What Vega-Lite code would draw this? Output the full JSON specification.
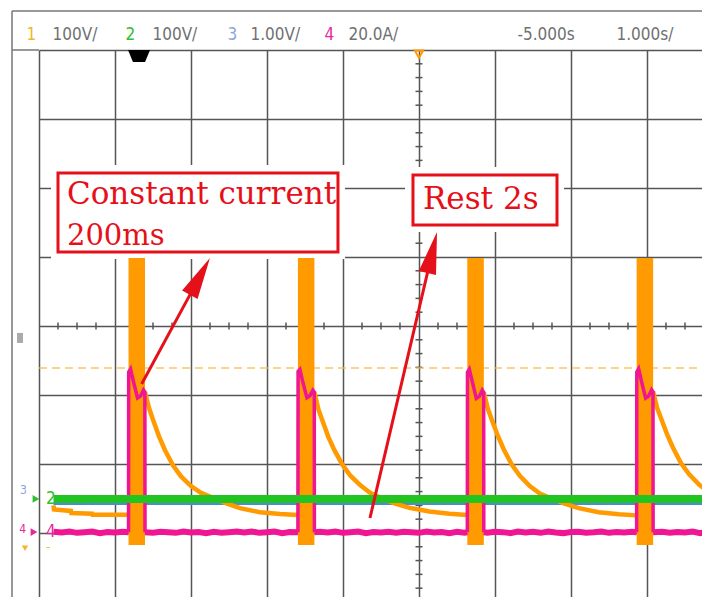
{
  "$schema": "https://vega.github.io/schema/vega-lite/v6.json",
  "width": 663,
  "height": 547,
  "autosize": {"type": "none"},
  "padding": {"left": 39, "top": 50, "right": 0, "bottom": 0},
  "background": "white",
  "config": {"view": {"stroke": null}},
  "datasets": {
    "xticks": [
      {"t": -9.75, "v": 0}, {"t": -9.5, "v": 0}, {"t": -9.25, "v": 0},
      {"t": -8.75, "v": 0}, {"t": -8.5, "v": 0}, {"t": -8.25, "v": 0},
      {"t": -7.75, "v": 0}, {"t": -7.5, "v": 0}, {"t": -7.25, "v": 0},
      {"t": -6.75, "v": 0}, {"t": -6.5, "v": 0}, {"t": -6.25, "v": 0},
      {"t": -5.75, "v": 0}, {"t": -5.5, "v": 0}, {"t": -5.25, "v": 0},
      {"t": -4.75, "v": 0}, {"t": -4.5, "v": 0}, {"t": -4.25, "v": 0},
      {"t": -3.75, "v": 0}, {"t": -3.5, "v": 0}, {"t": -3.25, "v": 0},
      {"t": -2.75, "v": 0}, {"t": -2.5, "v": 0}, {"t": -2.25, "v": 0},
      {"t": -1.75, "v": 0}, {"t": -1.5, "v": 0}
    ],
    "yticks": [
      {"t": -5, "v": 3.8}, {"t": -5, "v": 3.6}, {"t": -5, "v": 3.4}, {"t": -5, "v": 3.2},
      {"t": -5, "v": 2.8}, {"t": -5, "v": 2.6}, {"t": -5, "v": 2.4}, {"t": -5, "v": 2.2},
      {"t": -5, "v": 1.8}, {"t": -5, "v": 1.6}, {"t": -5, "v": 1.4}, {"t": -5, "v": 1.2},
      {"t": -5, "v": 0.8}, {"t": -5, "v": 0.6}, {"t": -5, "v": 0.4}, {"t": -5, "v": 0.2},
      {"t": -5, "v": -0.2}, {"t": -5, "v": -0.4}, {"t": -5, "v": -0.6}, {"t": -5, "v": -0.8},
      {"t": -5, "v": -1.2}, {"t": -5, "v": -1.4}, {"t": -5, "v": -1.6}, {"t": -5, "v": -1.8},
      {"t": -5, "v": -2.2}, {"t": -5, "v": -2.4}, {"t": -5, "v": -2.6}, {"t": -5, "v": -2.8},
      {"t": -5, "v": -3.2}, {"t": -5, "v": -3.4}, {"t": -5, "v": -3.6}, {"t": -5, "v": -3.8}
    ],
    "frame": [
      {"t": -10.355, "t2": -10.355, "v": 4.565, "v2": -3.93},
      {"t": -10.355, "t2": -1.27, "v": 4.565, "v2": 4.565},
      {"t": -10.355, "t2": -10, "v": 4, "v2": 4}
    ],
    "side": [{"t": -10.289, "t2": -10.211, "v": -0.101, "v2": -0.246}],
    "trig": [{"t": -10, "t2": -1.276, "v": -0.609}],
    "boxes": [
      {"kind": "pad", "t": -9.842, "t2": -5.974, "v": 2.333, "v2": 0.971},
      {"kind": "pad", "t": -5.184, "t2": -3.092, "v": 2.304, "v2": 1.362},
      {"kind": "frame", "t": -9.75, "t2": -6.066, "v": 2.217, "v2": 1.072},
      {"kind": "frame", "t": -5.079, "t2": -3.184, "v": 2.188, "v2": 1.464}
    ],
    "notes": [
      {"txt": "Constant current", "t": -9.632, "v": 1.768},
      {"txt": "200ms", "t": -9.632, "v": 1.175},
      {"txt": "Rest 2s", "t": -4.947, "v": 1.696}
    ],
    "arrows": [
      {"id": "a", "t": -8.649, "v": -0.841, "t2": -7.883, "v2": 0.719},
      {"id": "b", "t": -5.645, "v": -2.783, "t2": -4.826, "v2": 1.065}
    ],
    "heads": [
      {"id": "a", "t": -7.883, "v": 0.719},
      {"id": "b", "t": -4.826, "v": 1.065}
    ],
    "ch2": [{"t": -9.809, "v": -2.507}, {"t": -1.2, "v": -2.507}],
    "ch3": [{"t": -9.809, "v": -2.58}, {"t": -1.2, "v": -2.58}],
    "pulses": [
      {"t": -8.822, "t2": -8.605, "v": 0.986, "v2": -3.174},
      {"t": -6.593, "t2": -6.376, "v": 0.986, "v2": -3.174},
      {"t": -4.364, "t2": -4.147, "v": 0.986, "v2": -3.174},
      {"t": -2.136, "t2": -1.919, "v": 0.986, "v2": -3.174}
    ],
    "ch1": [
      {"seg": 0, "t": -9.809, "v": -2.6}, {"seg": 0, "t": -9.803, "v": -2.66},
      {"seg": 0, "t": -9.58, "v": -2.68}, {"seg": 0, "t": -9.575, "v": -2.71},
      {"seg": 0, "t": -9.3, "v": -2.72}, {"seg": 0, "t": -9.295, "v": -2.735},
      {"seg": 0, "t": -8.822, "v": -2.735},

      {"seg": 1, "t": -8.605, "v": -0.957}, {"seg": 1, "t": -8.552, "v": -1.19},
      {"seg": 1, "t": -8.5, "v": -1.36}, {"seg": 1, "t": -8.421, "v": -1.6},
      {"seg": 1, "t": -8.342, "v": -1.8}, {"seg": 1, "t": -8.237, "v": -2.02},
      {"seg": 1, "t": -8.131, "v": -2.18}, {"seg": 1, "t": -8.0, "v": -2.32},
      {"seg": 1, "t": -7.868, "v": -2.42}, {"seg": 1, "t": -7.71, "v": -2.49},
      {"seg": 1, "t": -7.552, "v": -2.565}, {"seg": 1, "t": -7.355, "v": -2.64},
      {"seg": 1, "t": -7.092, "v": -2.7}, {"seg": 1, "t": -6.829, "v": -2.725},
      {"seg": 1, "t": -6.593, "v": -2.74},

      {"seg": 2, "t": -6.376, "v": -0.957}, {"seg": 2, "t": -6.323, "v": -1.21},
      {"seg": 2, "t": -6.271, "v": -1.37}, {"seg": 2, "t": -6.192, "v": -1.61},
      {"seg": 2, "t": -6.113, "v": -1.8}, {"seg": 2, "t": -6.008, "v": -2.01},
      {"seg": 2, "t": -5.902, "v": -2.17}, {"seg": 2, "t": -5.771, "v": -2.31},
      {"seg": 2, "t": -5.639, "v": -2.42}, {"seg": 2, "t": -5.481, "v": -2.5},
      {"seg": 2, "t": -5.323, "v": -2.57}, {"seg": 2, "t": -5.126, "v": -2.635},
      {"seg": 2, "t": -4.863, "v": -2.69}, {"seg": 2, "t": -4.6, "v": -2.72},
      {"seg": 2, "t": -4.364, "v": -2.74},

      {"seg": 3, "t": -4.147, "v": -0.96}, {"seg": 3, "t": -4.094, "v": -1.2},
      {"seg": 3, "t": -4.042, "v": -1.36}, {"seg": 3, "t": -3.963, "v": -1.59},
      {"seg": 3, "t": -3.884, "v": -1.79}, {"seg": 3, "t": -3.779, "v": -2.01},
      {"seg": 3, "t": -3.673, "v": -2.17}, {"seg": 3, "t": -3.542, "v": -2.32},
      {"seg": 3, "t": -3.41, "v": -2.43}, {"seg": 3, "t": -3.252, "v": -2.5},
      {"seg": 3, "t": -3.094, "v": -2.57}, {"seg": 3, "t": -2.897, "v": -2.64},
      {"seg": 3, "t": -2.634, "v": -2.7}, {"seg": 3, "t": -2.371, "v": -2.73},
      {"seg": 3, "t": -2.136, "v": -2.745},

      {"seg": 4, "t": -1.919, "v": -0.95}, {"seg": 4, "t": -1.866, "v": -1.19},
      {"seg": 4, "t": -1.814, "v": -1.34}, {"seg": 4, "t": -1.735, "v": -1.57},
      {"seg": 4, "t": -1.656, "v": -1.77}, {"seg": 4, "t": -1.551, "v": -1.99},
      {"seg": 4, "t": -1.445, "v": -2.15}, {"seg": 4, "t": -1.314, "v": -2.3},
      {"seg": 4, "t": -1.182, "v": -2.41}
    ],
    "ch4pulse": [
      {"seg": 1, "t": -8.822, "v": -2.99}, {"seg": 1, "t": -8.82, "v": -0.667},
      {"seg": 1, "t": -8.796, "v": -0.623}, {"seg": 1, "t": -8.756, "v": -0.812},
      {"seg": 1, "t": -8.704, "v": -1.043}, {"seg": 1, "t": -8.664, "v": -1.014},
      {"seg": 1, "t": -8.625, "v": -0.928}, {"seg": 1, "t": -8.607, "v": -0.957},
      {"seg": 1, "t": -8.605, "v": -2.99},

      {"seg": 2, "t": -6.593, "v": -2.99}, {"seg": 2, "t": -6.591, "v": -0.66},
      {"seg": 2, "t": -6.567, "v": -0.63}, {"seg": 2, "t": -6.527, "v": -0.82},
      {"seg": 2, "t": -6.475, "v": -1.04}, {"seg": 2, "t": -6.435, "v": -1.01},
      {"seg": 2, "t": -6.396, "v": -0.93}, {"seg": 2, "t": -6.378, "v": -0.957},
      {"seg": 2, "t": -6.376, "v": -2.99},

      {"seg": 3, "t": -4.364, "v": -2.99}, {"seg": 3, "t": -4.362, "v": -0.67},
      {"seg": 3, "t": -4.338, "v": -0.625}, {"seg": 3, "t": -4.298, "v": -0.81},
      {"seg": 3, "t": -4.246, "v": -1.05}, {"seg": 3, "t": -4.206, "v": -1.02},
      {"seg": 3, "t": -4.167, "v": -0.93}, {"seg": 3, "t": -4.149, "v": -0.96},
      {"seg": 3, "t": -4.147, "v": -2.99},

      {"seg": 4, "t": -2.136, "v": -2.99}, {"seg": 4, "t": -2.134, "v": -0.665},
      {"seg": 4, "t": -2.11, "v": -0.62}, {"seg": 4, "t": -2.07, "v": -0.815},
      {"seg": 4, "t": -2.018, "v": -1.045}, {"seg": 4, "t": -1.978, "v": -1.015},
      {"seg": 4, "t": -1.939, "v": -0.925}, {"seg": 4, "t": -1.921, "v": -0.955},
      {"seg": 4, "t": -1.919, "v": -2.99}
    ],
    "ch4base": [
      {"seg": 0, "t": -9.809, "v": -2.982}, {"seg": 0, "t": -9.7, "v": -2.994},
      {"seg": 0, "t": -9.6, "v": -2.979}, {"seg": 0, "t": -9.5, "v": -2.998},
      {"seg": 0, "t": -9.4, "v": -2.99}, {"seg": 0, "t": -9.3, "v": -2.98},
      {"seg": 0, "t": -9.2, "v": -3.002}, {"seg": 0, "t": -9.1, "v": -2.986},
      {"seg": 0, "t": -9.0, "v": -2.992}, {"seg": 0, "t": -8.9, "v": -2.982},
      {"seg": 0, "t": -8.822, "v": -2.99},

      {"seg": 1, "t": -8.605, "v": -2.99}, {"seg": 1, "t": -8.5, "v": -2.996},
      {"seg": 1, "t": -8.4, "v": -2.984}, {"seg": 1, "t": -8.3, "v": -2.99},
      {"seg": 1, "t": -8.2, "v": -2.998}, {"seg": 1, "t": -8.1, "v": -2.979},
      {"seg": 1, "t": -8.0, "v": -2.994}, {"seg": 1, "t": -7.9, "v": -2.986},
      {"seg": 1, "t": -7.8, "v": -3.002}, {"seg": 1, "t": -7.7, "v": -2.982},
      {"seg": 1, "t": -7.6, "v": -2.996}, {"seg": 1, "t": -7.5, "v": -2.988},
      {"seg": 1, "t": -7.4, "v": -2.98}, {"seg": 1, "t": -7.3, "v": -2.994},
      {"seg": 1, "t": -7.2, "v": -2.978}, {"seg": 1, "t": -7.1, "v": -2.998},
      {"seg": 1, "t": -7.0, "v": -2.99}, {"seg": 1, "t": -6.9, "v": -2.98},
      {"seg": 1, "t": -6.8, "v": -3.002}, {"seg": 1, "t": -6.7, "v": -2.986},
      {"seg": 1, "t": -6.593, "v": -2.99},

      {"seg": 2, "t": -6.376, "v": -2.99}, {"seg": 2, "t": -6.3, "v": -2.982},
      {"seg": 2, "t": -6.2, "v": -2.994}, {"seg": 2, "t": -6.1, "v": -2.979},
      {"seg": 2, "t": -6.0, "v": -2.998}, {"seg": 2, "t": -5.9, "v": -2.99},
      {"seg": 2, "t": -5.8, "v": -2.98}, {"seg": 2, "t": -5.7, "v": -3.002},
      {"seg": 2, "t": -5.6, "v": -2.986}, {"seg": 2, "t": -5.5, "v": -2.992},
      {"seg": 2, "t": -5.4, "v": -2.982}, {"seg": 2, "t": -5.3, "v": -2.996},
      {"seg": 2, "t": -5.2, "v": -2.984}, {"seg": 2, "t": -5.1, "v": -2.99},
      {"seg": 2, "t": -5.0, "v": -2.998}, {"seg": 2, "t": -4.9, "v": -2.979},
      {"seg": 2, "t": -4.8, "v": -2.994}, {"seg": 2, "t": -4.7, "v": -2.986},
      {"seg": 2, "t": -4.6, "v": -3.002}, {"seg": 2, "t": -4.5, "v": -2.982},
      {"seg": 2, "t": -4.4, "v": -2.996}, {"seg": 2, "t": -4.364, "v": -2.99},

      {"seg": 3, "t": -4.147, "v": -2.99}, {"seg": 3, "t": -4.1, "v": -2.998},
      {"seg": 3, "t": -4.0, "v": -2.982}, {"seg": 3, "t": -3.9, "v": -2.988},
      {"seg": 3, "t": -3.8, "v": -3.002}, {"seg": 3, "t": -3.7, "v": -2.98},
      {"seg": 3, "t": -3.6, "v": -2.994}, {"seg": 3, "t": -3.5, "v": -2.984},
      {"seg": 3, "t": -3.4, "v": -2.998}, {"seg": 3, "t": -3.3, "v": -2.979},
      {"seg": 3, "t": -3.2, "v": -2.992}, {"seg": 3, "t": -3.1, "v": -3.002},
      {"seg": 3, "t": -3.0, "v": -2.986}, {"seg": 3, "t": -2.9, "v": -2.982},
      {"seg": 3, "t": -2.8, "v": -2.996}, {"seg": 3, "t": -2.7, "v": -2.99},
      {"seg": 3, "t": -2.6, "v": -2.979}, {"seg": 3, "t": -2.5, "v": -2.998},
      {"seg": 3, "t": -2.4, "v": -2.986}, {"seg": 3, "t": -2.3, "v": -2.994},
      {"seg": 3, "t": -2.2, "v": -2.982}, {"seg": 3, "t": -2.136, "v": -2.99},

      {"seg": 4, "t": -1.919, "v": -2.99}, {"seg": 4, "t": -1.8, "v": -2.982},
      {"seg": 4, "t": -1.7, "v": -2.998}, {"seg": 4, "t": -1.6, "v": -2.986},
      {"seg": 4, "t": -1.5, "v": -2.994}, {"seg": 4, "t": -1.4, "v": -2.98},
      {"seg": 4, "t": -1.3, "v": -3.002}, {"seg": 4, "t": -1.2, "v": -2.988}
    ],
    "header": [
      {"txt": "100V/", "t": -9.822, "v": 4.22},
      {"txt": "100V/", "t": -8.507, "v": 4.22},
      {"txt": "1.00V/", "t": -7.217, "v": 4.22},
      {"txt": "20.0A/", "t": -5.928, "v": 4.22},
      {"txt": "-5.000s", "t": -3.704, "v": 4.22},
      {"txt": "1.000s/", "t": -2.401, "v": 4.22}
    ],
    "chnum": [
      {"txt": "1", "ch": "1", "t": -10.164, "v": 4.22},
      {"txt": "2", "ch": "2", "t": -8.862, "v": 4.22},
      {"txt": "3", "ch": "3", "t": -7.52, "v": 4.22},
      {"txt": "4", "ch": "4", "t": -6.243, "v": 4.22},
      {"txt": "2", "ch": "2", "t": -9.908, "v": -2.507},
      {"txt": "4", "ch": "4", "t": -9.908, "v": -2.986}
    ],
    "chsmall": [
      {"txt": "3", "ch": "3", "t": -10.25, "v": -2.37},
      {"txt": "4", "ch": "4", "t": -10.26, "v": -2.94},
      {"txt": "-", "ch": "1", "t": -9.905, "v": -3.2}
    ],
    "chmark": [
      {"ch": "2", "t": -10.04, "v": -2.507},
      {"ch": "4", "t": -10.066, "v": -2.986}
    ],
    "gnd": [{"ch": "1", "t": -10.184, "v": -3.22}],
    "delay": [{"t": -8.684, "v": 3.913}],
    "trigpos": [{"t": -5, "v": 3.94}]
  },
  "encoding": {
    "x": {
      "field": "t",
      "type": "quantitative",
      "scale": {"domain": [-10, -1.276], "nice": false, "zero": false},
      "axis": {
        "values": [-10, -9, -8, -7, -6, -5, -4, -3, -2],
        "grid": true, "gridColor": "#555555", "gridWidth": 1.5, "gridOpacity": 1,
        "labels": false, "ticks": false, "domain": false, "title": null
      }
    },
    "y": {
      "field": "v",
      "type": "quantitative",
      "scale": {"domain": [-3.928, 4], "nice": false, "zero": false},
      "axis": {
        "values": [-3, -2, -1, 0, 1, 2, 3, 4],
        "grid": true, "gridColor": "#555555", "gridWidth": 1.5, "gridOpacity": 1,
        "labels": false, "ticks": false, "domain": false, "title": null
      }
    }
  },
  "layer": [
    {
      "data": {"name": "xticks"},
      "mark": {"type": "tick", "orient": "vertical", "size": 7, "thickness": 1.5, "color": "#555555", "opacity": 1}
    },
    {
      "data": {"name": "yticks"},
      "mark": {"type": "tick", "orient": "horizontal", "size": 7, "thickness": 1.5, "color": "#555555", "opacity": 1}
    },
    {
      "data": {"name": "frame"},
      "mark": {"type": "rule", "color": "#777777", "strokeWidth": 1.5},
      "encoding": {"x2": {"field": "t2"}, "y2": {"field": "v2"}}
    },
    {
      "data": {"name": "side"},
      "mark": {"type": "rect", "color": "#aaaaaa"},
      "encoding": {"x2": {"field": "t2"}, "y2": {"field": "v2"}}
    },
    {
      "data": {"name": "trig"},
      "mark": {"type": "rule", "color": "#ffbb44", "strokeWidth": 1.5, "strokeDash": [8, 5], "opacity": 0.85},
      "encoding": {"x2": {"field": "t2"}}
    },
    {
      "data": {"name": "boxes"},
      "transform": [{"filter": "datum.kind === 'pad'"}],
      "mark": {"type": "rect", "color": "white"},
      "encoding": {"x2": {"field": "t2"}, "y2": {"field": "v2"}}
    },
    {
      "data": {"name": "ch3"},
      "mark": {"type": "line", "color": "#4a8ad8", "strokeWidth": 2, "clip": true}
    },
    {
      "data": {"name": "pulses"},
      "mark": {"type": "rect", "color": "#ff9a00", "clip": true},
      "encoding": {"x2": {"field": "t2"}, "y2": {"field": "v2"}}
    },
    {
      "data": {"name": "ch1"},
      "mark": {"type": "line", "color": "#ff9a00", "strokeWidth": 4.5, "clip": true},
      "encoding": {"detail": {"field": "seg"}}
    },
    {
      "data": {"name": "ch4base"},
      "mark": {"type": "line", "color": "#f01592", "strokeWidth": 6, "clip": true},
      "encoding": {"detail": {"field": "seg"}}
    },
    {
      "data": {"name": "ch4pulse"},
      "mark": {"type": "line", "color": "#f01592", "strokeWidth": 3.5, "clip": true},
      "encoding": {"detail": {"field": "seg"}}
    },
    {
      "data": {"name": "ch2"},
      "mark": {"type": "line", "color": "#22c422", "strokeWidth": 8, "clip": true}
    },
    {
      "data": {"name": "boxes"},
      "transform": [{"filter": "datum.kind === 'frame'"}],
      "mark": {"type": "rect", "filled": false, "color": "#e5101a", "strokeWidth": 3},
      "encoding": {"x2": {"field": "t2"}, "y2": {"field": "v2"}}
    },
    {
      "data": {"name": "notes"},
      "transform": [{"filter": "datum.txt !== '200ms'"}],
      "mark": {"type": "text", "align": "left", "baseline": "alphabetic", "font": "DejaVu Serif", "fontSize": 31, "color": "#e5101a"},
      "encoding": {"text": {"field": "txt"}}
    },
    {
      "data": {"name": "notes"},
      "transform": [{"filter": "datum.txt === '200ms'"}],
      "mark": {"type": "text", "align": "left", "baseline": "alphabetic", "font": "DejaVu Serif", "fontSize": 29, "color": "#e5101a"},
      "encoding": {"text": {"field": "txt"}}
    },
    {
      "data": {"name": "arrows"},
      "mark": {"type": "rule", "color": "#e5101a", "strokeWidth": 3},
      "encoding": {"x2": {"field": "t2"}, "y2": {"field": "v2"}}
    },
    {
      "data": {"name": "heads"},
      "transform": [{"filter": "datum.id === 'a'"}],
      "mark": {"type": "point", "shape": "M0,-1L0.42,1L-0.42,1Z", "filled": true, "size": 1764, "angle": 28.6, "color": "#e5101a", "opacity": 1}
    },
    {
      "data": {"name": "heads"},
      "transform": [{"filter": "datum.id === 'b'"}],
      "mark": {"type": "point", "shape": "M0,-1L0.42,1L-0.42,1Z", "filled": true, "size": 1764, "angle": 13.2, "color": "#e5101a", "opacity": 1}
    },
    {
      "data": {"name": "header"},
      "mark": {"type": "text", "align": "left", "baseline": "middle", "font": "DejaVu Sans Condensed, Liberation Sans Narrow, Roboto Condensed, sans-serif", "fontSize": 17, "color": "#707070"},
      "encoding": {"text": {"field": "txt"}}
    },
    {
      "data": {"name": "chnum"},
      "mark": {"type": "text", "align": "left", "baseline": "middle", "font": "DejaVu Sans Condensed, Liberation Sans Narrow, Roboto Condensed, sans-serif", "fontSize": 17},
      "encoding": {
        "text": {"field": "txt"},
        "color": {"field": "ch", "type": "nominal", "scale": {"domain": ["1", "2", "3", "4"], "range": ["#f2b62a", "#2fbf2f", "#8aa6dc", "#e8289a"]}, "legend": null}
      }
    },
    {
      "data": {"name": "chsmall"},
      "mark": {"type": "text", "align": "left", "baseline": "middle", "font": "DejaVu Sans Condensed, Liberation Sans Narrow, Roboto Condensed, sans-serif", "fontSize": 12},
      "encoding": {
        "text": {"field": "txt"},
        "color": {"field": "ch", "type": "nominal", "legend": null}
      }
    },
    {
      "data": {"name": "chmark"},
      "mark": {"type": "point", "shape": "triangle-right", "filled": true, "size": 60, "opacity": 1},
      "encoding": {"color": {"field": "ch", "type": "nominal", "legend": null}}
    },
    {
      "data": {"name": "gnd"},
      "mark": {"type": "point", "shape": "triangle-down", "filled": true, "size": 40, "opacity": 1},
      "encoding": {"color": {"field": "ch", "type": "nominal", "legend": null}}
    },
    {
      "data": {"name": "delay"},
      "mark": {"type": "point", "shape": "M-1,-0.55L1,-0.55L0.55,0.55L-0.55,0.55Z", "filled": true, "size": 484, "color": "black", "opacity": 1}
    },
    {
      "data": {"name": "trigpos"},
      "mark": {"type": "point", "shape": "triangle-down", "filled": false, "size": 70, "strokeWidth": 2, "color": "#ff9a00", "opacity": 1}
    }
  ]
}
